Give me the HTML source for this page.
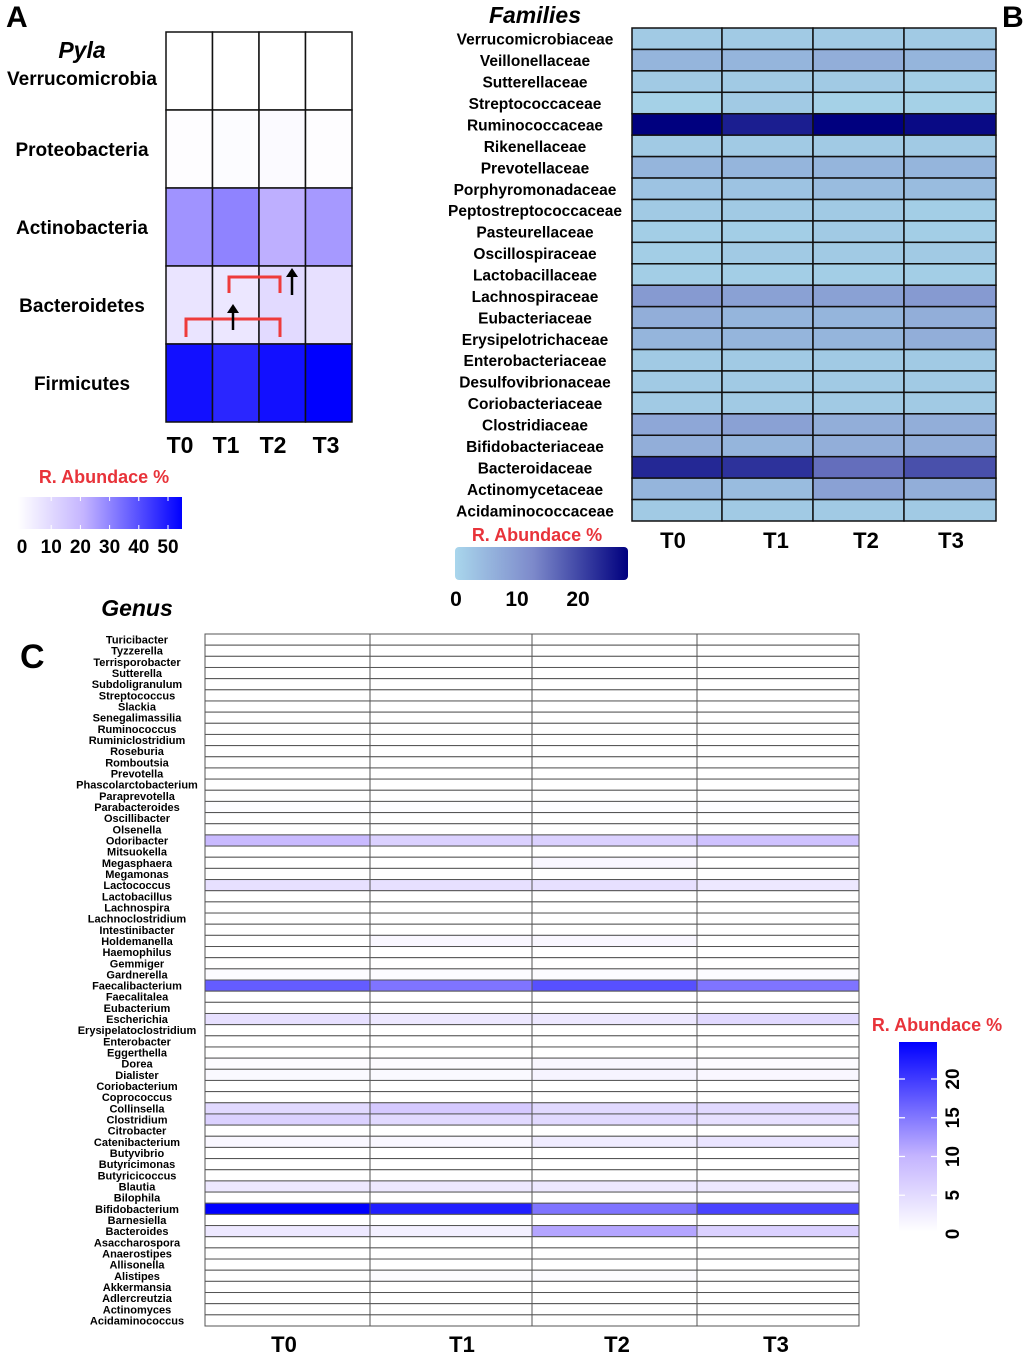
<!DOCTYPE html>
<html><head><meta charset="utf-8">
<style>
html,body{margin:0;padding:0;background:#fff;}
svg{display:block;font-family:"Liberation Sans",sans-serif;font-weight:bold;}
</style></head>
<body>
<svg id="fig" width="1026" height="1354" viewBox="0 0 1026 1354" xmlns="http://www.w3.org/2000/svg">
<defs>
<linearGradient id="gA" x1="0" x2="1" y1="0" y2="0"><stop offset="0" stop-color="#ffffff"/><stop offset="0.4" stop-color="#c4b4ff"/><stop offset="1" stop-color="#0000ff"/></linearGradient>
<linearGradient id="gB" x1="0" x2="1" y1="0" y2="0"><stop offset="0" stop-color="#a9d6ec"/><stop offset="0.45" stop-color="#7d8acb"/><stop offset="1" stop-color="#00007f"/></linearGradient>
<linearGradient id="gC" x1="0" x2="0" y1="1" y2="0"><stop offset="0" stop-color="#ffffff"/><stop offset="0.4" stop-color="#c4b4ff"/><stop offset="1" stop-color="#0000ff"/></linearGradient>
</defs>
<text x="6" y="27" font-size="30">A</text>
<text x="1002" y="27" font-size="30">B</text>
<text x="20" y="668" font-size="34">C</text>
<text x="82" y="58" font-size="23" font-style="italic" text-anchor="middle">Pyla</text>
<text x="535" y="23" font-size="23" font-style="italic" text-anchor="middle">Families</text>
<text x="137" y="616" font-size="23" font-style="italic" text-anchor="middle">Genus</text>
<g id="pa"></g><g id="pb"></g><g id="pc"></g>
<text x="104" y="483" font-size="18" fill="#e8333a" text-anchor="middle">R. Abundace %</text>
<rect x="18" y="497" width="164" height="32" fill="url(#gA)"/>
<text x="537" y="541" font-size="18" fill="#e8333a" text-anchor="middle">R. Abundace %</text>
<rect x="455" y="547" width="173" height="33" rx="4" fill="url(#gB)"/>
<text x="937" y="1031" font-size="18" fill="#e8333a" text-anchor="middle">R. Abundace %</text>
<rect x="899" y="1042" width="38" height="190" fill="url(#gC)"/>
<g id="lg"></g>
</svg>
<script>
// Panel A data
const phyla = ["Verrucomicrobia","Proteobacteria","Actinobacteria","Bacteroidetes","Firmicutes"];
const times = ["T0","T1","T2","T3"];
const phylaT0 = [0,0.5,28,8,52];
const phylaT1 = [0,1,31,7,48];
const phylaT2 = [0,1.5,23,11,52];
const phylaT3 = [0,0.5,27,9,55];
const phylaTicks = [0,10,20,30,40,50];
// Panel B data
const families = ["Verrucomicrobiaceae","Veillonellaceae","Sutterellaceae","Streptococcaceae","Ruminococcaceae","Rikenellaceae","Prevotellaceae","Porphyromonadaceae","Peptostreptococcaceae","Pasteurellaceae","Oscillospiraceae","Lactobacillaceae","Lachnospiraceae","Eubacteriaceae","Erysipelotrichaceae","Enterobacteriaceae","Desulfovibrionaceae","Coriobacteriaceae","Clostridiaceae","Bifidobacteriaceae","Bacteroidaceae","Actinomycetaceae","Acidaminococcaceae"];
const famT0 = [2,5,2,1,25,2,5,3,2,1.5,1.5,1.5,9,6,5,2,2,2,7,6,21,5,2];
const famT1 = [2,5,2,2,22,2,5,3,2,1.5,2,1.5,8,5,5,2,2,2,8,5,20,4,2];
const famT2 = [2,6,2,1,25,2,5,4,2,2,2,1.5,8,5,5,2,2,2,6,6,14,8,2];
const famT3 = [2,5,1.5,1,24,2,5,4,1.5,1.5,2,1.5,9,6,6,2,2,2,6,6,17,6,2];
const famTicks = [0,10,20];
// Panel C data
const genera = ["Turicibacter","Tyzzerella","Terrisporobacter","Sutterella","Subdoligranulum","Streptococcus","Slackia","Senegalimassilia","Ruminococcus","Ruminiclostridium","Roseburia","Romboutsia","Prevotella","Phascolarctobacterium","Paraprevotella","Parabacteroides","Oscillibacter","Olsenella","Odoribacter","Mitsuokella","Megasphaera","Megamonas","Lactococcus","Lactobacillus","Lachnospira","Lachnoclostridium","Intestinibacter","Holdemanella","Haemophilus","Gemmiger","Gardnerella","Faecalibacterium","Faecalitalea","Eubacterium","Escherichia","Erysipelatoclostridium","Enterobacter","Eggerthella","Dorea","Dialister","Coriobacterium","Coprococcus","Collinsella","Clostridium","Citrobacter","Catenibacterium","Butyvibrio","Butyricimonas","Butyricicoccus","Blautia","Bilophila","Bifidobacterium","Barnesiella","Bacteroides","Asaccharospora","Anaerostipes","Allisonella","Alistipes","Akkermansia","Adlercreutzia","Actinomyces","Acidaminococcus"];
const genT0 = [0,0,0,0,0,0,0,0,0,0,0,0,0,0,0,0.3,0,0,9,0,0,0,4,0,0,0,0,0,0,0,0.5,17,0,0,4,0,0,0,0.5,0.8,0,0,5,6,0,1,0,0,0,3,0,25,0,3,0,0,0,0,0,0,0,0];
const genT1 = [0,0,0,0,0,0,0,0,0,0,0,0,0,0,0,0.3,0,0,6,0,0,0,4,0,0,0,0,1,0,0,0.5,15,0,0,3,0,0,0,0.5,0.8,0,0,7,5,0,1,0,0,0,3,0,22,0,2,0,0,0,0.5,0,0,0,0];
const genT2 = [0,0,0,0,0,0,0,0,0,0,0,0,0,0,0,0.3,0,0,6,0,1,0,4,0,0,0,0,1,0,0,0.5,18,0,0,3,0,0,0,1,1.5,0,0,5,5,0,2.5,0,0,0,3,0,15,0,11,0,0,0,0.5,0,0,0,0];
const genT3 = [0,0,0,0,0,0,0,0,0,0,0,0,0,0,0,0.3,0,0,8,0,0,0,3,0,0,0,0,0,0,0,0.5,15,0,0,5,0,0,0,0.5,1,0,0,5,4,0,3.5,0,0,0,3,0,19,0,6,0,0,0,0,0,0,0,0];
const genTicks = [0,5,10,15,20];

const NS="http://www.w3.org/2000/svg";
function mk(tag,attrs,parent){const e=document.createElementNS(NS,tag);for(const k in attrs)e.setAttribute(k,attrs[k]);parent.appendChild(e);return e;}
function lerp(a,b,t){return a.map((v,i)=>Math.round(v+(b[i]-v)*t));}
function ramp(stops,t){t=Math.max(0,Math.min(1,t));for(let i=1;i<stops.length;i++){if(t<=stops[i][0]){const s=stops[i-1],e=stops[i];return lerp(s[1],e[1],(t-s[0])/(e[0]-s[0]));}}return stops[stops.length-1][1];}
const purple=[[0,[255,255,255]],[0.4,[196,180,255]],[1,[0,0,255]]];
const blues=[[0,[169,216,234]],[0.45,[125,138,203]],[1,[0,0,127]]];
function rgb(c){return `rgb(${c[0]},${c[1]},${c[2]})`;}

// Panel A
const pa=document.getElementById('pa');
const aX0=166,aW=46.5,aY0=32,aH=78,aMax=55;
const aCols=[phylaT0,phylaT1,phylaT2,phylaT3];
const ax=i=>aX0+i*aW, ay=j=>aY0+j*aH;
phyla.forEach((p,j)=>{
  const t=mk('text',{x:82,y:ay(j)+aH/2+(j==0?14:7),'font-size':19,'text-anchor':'middle'},pa);t.textContent=p;
  
  
  aCols.forEach((col,i)=>{
    const r=mk('rect',{x:ax(i),y:ay(j),width:aW,height:aH,fill:rgb(ramp(purple,col[j]/aMax)),stroke:'#111','stroke-width':1.5},pa);
    
    
  });
});
const aLab=[180,226,273,326];
times.forEach((tm,i)=>{const t=mk('text',{x:aLab[i],y:453,'font-size':23,'text-anchor':'middle'},pa);t.textContent=tm;
  
  });
const br=mk('g',{},pa);


mk('path',{d:`M186 337 V319 H280 V337`,stroke:'#ee3b3b','stroke-width':3,fill:'none'},br);
mk('path',{d:`M229 293 V277 H280 V293`,stroke:'#ee3b3b','stroke-width':3,fill:'none'},br);
mk('path',{d:`M233 330 V308`,stroke:'#000','stroke-width':2.5},br);
mk('path',{d:`M227 313 L233 304 L239 313 Z`,fill:'#000'},br);
mk('path',{d:`M292 295 V272`,stroke:'#000','stroke-width':2.5},br);
mk('path',{d:`M286 277 L292 268 L298 277 Z`,fill:'#000'},br);

// Panel B
const pb=document.getElementById('pb');
const bX=[632,722,813,904,996],bY0=28,bH=(521-28)/23,bMax=25;
const bCols=[famT0,famT1,famT2,famT3];
families.forEach((f,j)=>{
  const t=mk('text',{x:535,y:bY0+j*bH+bH/2+6,'font-size':15.5,'text-anchor':'middle'},pb);t.textContent=f;
  
  
  bCols.forEach((col,i)=>{
    const r=mk('rect',{x:bX[i],y:bY0+j*bH,width:bX[i+1]-bX[i],height:bH,fill:rgb(ramp(blues,col[j]/bMax)),stroke:'#111','stroke-width':1.5},pb);
    
    
  });
});
const bLab=[673,776,866,951];
times.forEach((tm,i)=>{const t=mk('text',{x:bLab[i],y:548,'font-size':22,'text-anchor':'middle'},pb);t.textContent=tm;
  
  });

// Panel C
const pc=document.getElementById('pc');
const cX=[205,370,532,697,859],cY0=634,cH=(1326-634)/62,cMax=24.5;
const cCols=[genT0,genT1,genT2,genT3];
genera.forEach((g,j)=>{
  const t=mk('text',{x:137,y:cY0+j*cH+cH/2+4,'font-size':11,'text-anchor':'middle'},pc);t.textContent=g;
  
  
  cCols.forEach((col,i)=>{
    const r=mk('rect',{x:cX[i],y:cY0+j*cH,width:cX[i+1]-cX[i],height:cH,fill:rgb(ramp(purple,col[j]/cMax)),stroke:'#555','stroke-width':1},pc);
    
    
  });
});
const cLab=[284,462,617,776];
times.forEach((tm,i)=>{const t=mk('text',{x:cLab[i],y:1352,'font-size':22,'text-anchor':'middle'},pc);t.textContent=tm;
  
  });

// Legend ticks
const lg=document.getElementById('lg');
phylaTicks.forEach(v=>{const x=22+v*(146/50);
  const t=mk('text',{x:x,y:553,'font-size':19,'text-anchor':'middle'},lg);t.textContent=v;
  
  
  if(v>0)mk('path',{d:`M${x} 497 v4 M${x} 525 v4`,stroke:'#fff','stroke-width':1},lg);});
famTicks.forEach(v=>{const x=456+v*(122/20);
  const t=mk('text',{x:x,y:606,'font-size':21,'text-anchor':'middle'},lg);t.textContent=v;
  
  });
genTicks.forEach(v=>{const y=1234-v*(155/20);
  const t=mk('text',{x:0,y:0,'font-size':19,'text-anchor':'middle',transform:`translate(959 ${y}) rotate(-90)`},lg);t.textContent=v;
  
  
  if(v>0)mk('path',{d:`M899 ${y} h6 M931 ${y} h6`,stroke:'#fff','stroke-width':1.2},lg);});
</script>
</body></html>
